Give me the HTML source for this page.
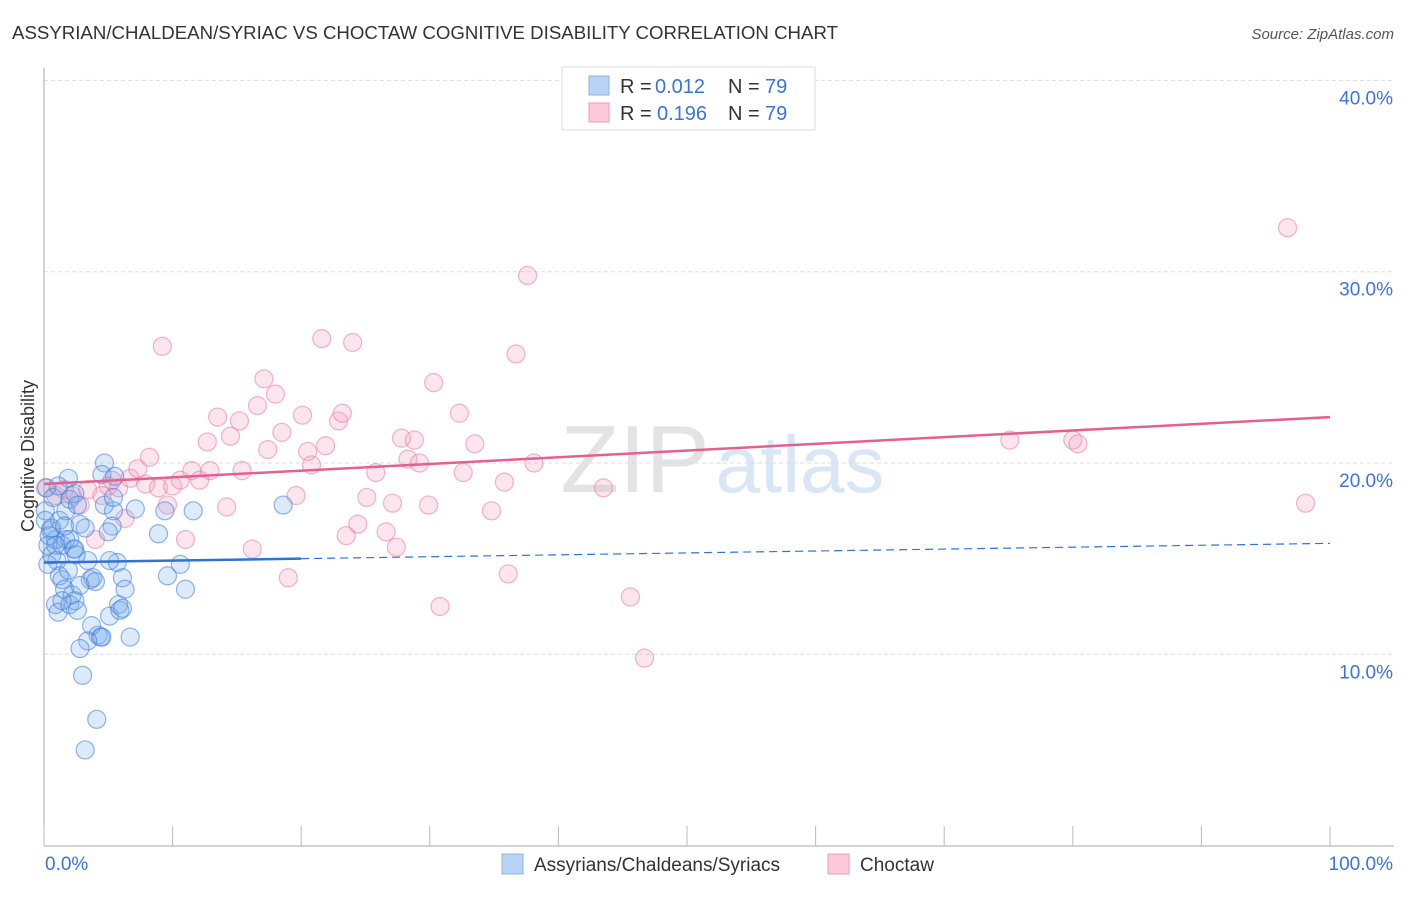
<!DOCTYPE html>
<html><head><meta charset="utf-8"><style>
body{margin:0;background:#fff;font-family:"Liberation Sans",sans-serif;}
svg text{font-family:"Liberation Sans",sans-serif;}
</style></head><body>
<svg id="chart" width="1406" height="892" viewBox="0 0 1406 892" xmlns="http://www.w3.org/2000/svg">
<text x="12" y="39" font-size="18" fill="#333" textLength="826" lengthAdjust="spacingAndGlyphs">ASSYRIAN/CHALDEAN/SYRIAC VS CHOCTAW COGNITIVE DISABILITY CORRELATION CHART</text>
<text x="1394" y="39" font-size="15" fill="#555" font-style="italic" text-anchor="end">Source: ZipAtlas.com</text>
<g>
<text x="635" y="492" font-size="96" fill="#ddd" font-family="Liberation Serif" text-anchor="middle" opacity="0.8">ZIP</text>
<text x="800" y="492" font-size="80" fill="#cfe0f5" text-anchor="middle" opacity="0.8">atlas</text>
</g>
<g id="grid"></g>
<g id="axes"></g>
<g id="points"></g>
<g id="trends"></g>
<text transform="translate(34,456) rotate(-90)" font-size="18" fill="#333" text-anchor="middle">Cognitive Disability</text>
<g>
<rect x="562" y="67" width="253" height="63" fill="#fff" stroke="#ddd"/>
<rect x="589" y="76" width="20" height="19" fill="#b7d3f5" stroke="#8ab4ea"/>
<rect x="589" y="103" width="20" height="19" fill="#fbc9d8" stroke="#f09ab7"/>
<text x="620" y="93" font-size="20" fill="#333">R =</text>
<text x="655" y="93" font-size="20" fill="#3b74d8">0.012</text>
<text x="728" y="93" font-size="20" fill="#333">N =</text>
<text x="765" y="93" font-size="20" fill="#3b74d8">79</text>
<text x="620" y="120" font-size="20" fill="#333">R =</text>
<text x="657" y="120" font-size="20" fill="#3b74d8">0.196</text>
<text x="728" y="120" font-size="20" fill="#333">N =</text>
<text x="765" y="120" font-size="20" fill="#3b74d8">79</text>
</g>
<g>
<rect x="502" y="854" width="21" height="20" fill="#b7d3f5" stroke="#8ab4ea"/>
<text x="534" y="871" font-size="19" fill="#333">Assyrians/Chaldeans/Syriacs</text>
<rect x="828" y="854" width="21" height="20" fill="#fbc9d8" stroke="#f09ab7"/>
<text x="860" y="871" font-size="19" fill="#333">Choctaw</text>
</g>
</svg>
<script>
const blueX=[0.2,0.5,0.3,0.6,0.9,1.0,1.2,1.4,1.7,1.9,1.7,2.0,2.3,2.4,2.6,1.2,1.4,1.6,0.9,1.1,2.0,2.2,2.4,2.6,2.8,3.2,3.4,3.6,3.8,4.0,4.2,4.4,3.7,4.5,3.4,3.0,2.8,4.1,3.2,4.7,4.5,4.7,5.5,5.4,5.3,5.7,5.1,5.8,5.9,6.1,6.1,6.3,6.7,7.1,8.9,9.4,9.6,10.6,11.0,11.6,18.6,0.1,0.1,0.4,0.7,1.1,2.0,2.4,1.4,2.8,5.1,1.9,0.3,0.6,0.9,1.6,2.5,5.0,5.4];
const blueY=[18.7,16.5,15.7,15.2,16.0,14.9,17.0,15.7,16.0,19.2,17.5,18.1,15.5,18.4,17.8,14.1,13.9,13.4,12.6,12.2,12.6,13.1,12.8,12.3,16.8,16.6,14.9,13.9,14.0,13.8,11.0,10.9,11.5,10.9,10.7,8.9,10.3,6.6,5.0,20.0,19.4,17.8,19.3,17.5,16.7,14.8,12.0,12.6,12.3,12.4,14.0,13.4,10.9,17.6,16.3,17.5,14.1,14.7,13.4,17.5,17.8,17.5,17.0,16.2,18.2,18.8,16.0,15.5,12.8,13.6,14.9,14.4,14.7,16.6,15.7,16.7,15.2,16.4,18.2];
const pinkX=[0.1,0.9,1.6,2.2,2.8,3.4,4.0,4.5,5.0,5.3,5.8,6.3,6.7,7.3,7.9,8.2,8.9,9.2,9.6,10.0,10.6,11.0,11.5,12.1,12.7,12.9,13.5,14.2,14.5,15.2,15.4,16.2,16.6,17.1,17.4,18.0,18.5,19.0,19.6,20.1,20.5,20.8,21.6,21.9,22.9,23.2,23.5,24.0,24.4,25.1,25.8,26.6,27.1,27.4,27.8,28.3,28.8,29.2,29.9,30.3,30.8,32.3,32.6,33.5,34.8,35.8,36.1,36.7,37.6,38.1,43.5,45.6,46.7,75.1,80.0,80.4,96.7,98.1];
const pinkY=[18.7,18.3,18.6,18.3,17.8,18.6,16.0,18.3,18.8,19.1,18.7,17.1,19.2,19.7,18.9,20.3,18.7,26.1,17.8,18.8,19.1,16.0,19.6,19.1,21.1,19.6,22.4,17.7,21.4,22.2,19.6,15.5,23.0,24.4,20.7,23.6,21.6,14.0,18.3,22.5,20.6,19.9,26.5,20.9,22.2,22.6,16.2,26.3,16.8,18.2,19.5,16.4,17.9,15.6,21.3,20.2,21.2,20.0,17.8,24.2,12.5,22.6,19.5,21.0,17.5,19.0,14.2,25.7,29.8,20.0,18.7,13.0,9.8,21.2,21.2,21.0,32.3,17.9];
const blueTrend=[14.8,15.8];
const pinkTrend=[18.9,22.4];
const yTicks=[10,20,30,40];
const yTickLabels=["10.0%","20.0%","30.0%","40.0%"];
const xTicks=[0,10,20,30,40,50,60,70,80,90,100];

const X0=44,X1=1330,Y0=845.6,YPX=19.13;
const sx=v=>X0+(X1-X0)*v/100;
const sy=v=>Y0-v*YPX;
const NS="http://www.w3.org/2000/svg";
function mk(tag,attrs,parent){const e=document.createElementNS(NS,tag);for(const k in attrs)e.setAttribute(k,attrs[k]);parent.appendChild(e);return e;}
const grid=document.getElementById('grid'),axes=document.getElementById('axes'),pts=document.getElementById('points'),tr=document.getElementById('trends');
yTicks.forEach((t,i)=>{
  const l=mk('line',{x1:X0,x2:1394,y1:sy(t),y2:sy(t),stroke:'#ddd','stroke-dasharray':'4,3'},grid);
  
  
  const tx=mk('text',{x:1393,y:sy(t)+24,'font-size':19,fill:'#3b74d8','text-anchor':'end'},axes);
  tx.textContent=yTickLabels[i];
  
  
});
const ya=mk('line',{x1:X0,x2:X0,y1:68,y2:846,stroke:'#aaa'},axes);


const xa=mk('line',{x1:X0,x2:1394,y1:846,y2:846,stroke:'#aaa'},axes);


xTicks.forEach(t=>{
  const l=mk('line',{x1:sx(t),x2:sx(t),y1:826,y2:846,stroke:'#bbb'},axes);
  
  
});
const xl0=mk('text',{x:45,y:870,'font-size':19,fill:'#3b74d8'},axes);xl0.textContent='0.0%';


const xl1=mk('text',{x:1393,y:870,'font-size':19,fill:'#3b74d8','text-anchor':'end'},axes);xl1.textContent='100.0%';


pinkX.forEach((x,i)=>{
  const c=mk('circle',{cx:sx(x),cy:sy(pinkY[i]),r:9,fill:'rgba(244,160,190,0.28)',stroke:'rgba(230,120,160,0.55)','stroke-width':1.2},pts);
  
  
});
blueX.forEach((x,i)=>{
  const c=mk('circle',{cx:sx(x),cy:sy(blueY[i]),r:9,fill:'rgba(120,170,235,0.25)',stroke:'rgba(60,120,215,0.55)','stroke-width':1.2},pts);
  
  
});
const bMid=blueTrend[0]+(blueTrend[1]-blueTrend[0])*0.2;
const b1=mk('line',{x1:sx(0),y1:sy(blueTrend[0]),x2:sx(20),y2:sy(bMid),stroke:'#2f73d6','stroke-width':2.5},tr);


const b2=mk('line',{x1:sx(20),y1:sy(bMid),x2:sx(100),y2:sy(blueTrend[1]),stroke:'#2f73d6','stroke-width':1.2,'stroke-dasharray':'8,5'},tr);


const p1=mk('line',{x1:sx(0),y1:sy(pinkTrend[0]),x2:sx(100),y2:sy(pinkTrend[1]),stroke:'#e3608f','stroke-width':2.5},tr);


</script>
</body></html>
